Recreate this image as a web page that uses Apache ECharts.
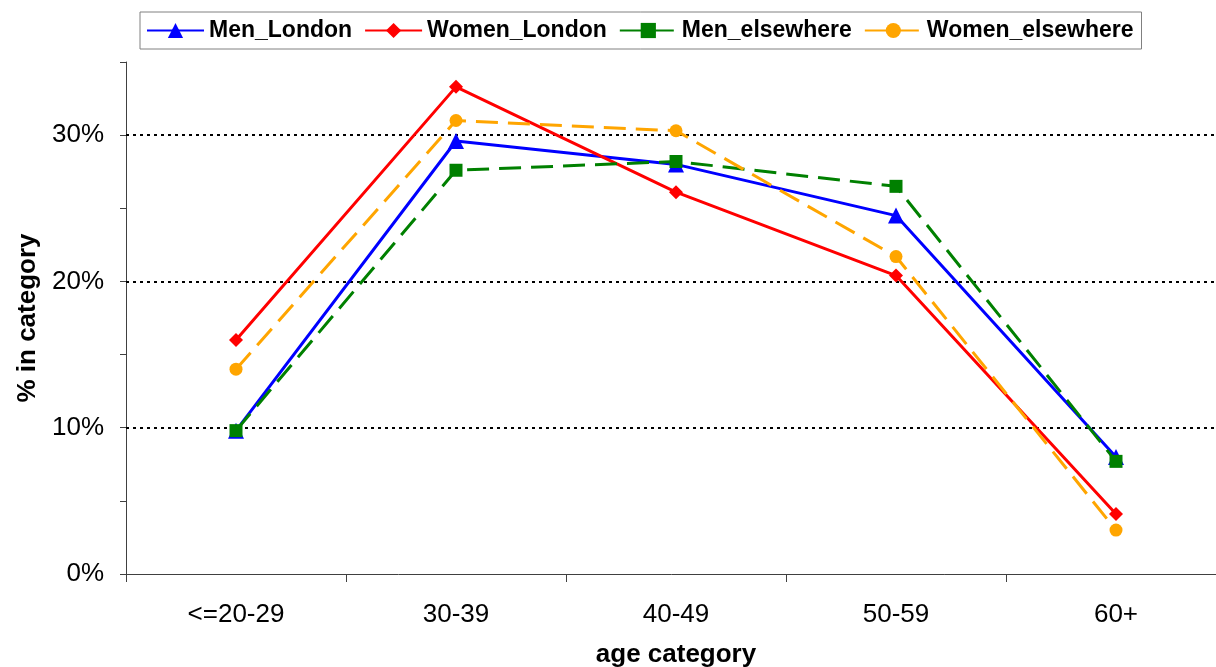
<!DOCTYPE html>
<html>
<head>
<meta charset="utf-8">
<script src="https://cdn.jsdelivr.net/npm/echarts@6/dist/echarts.min.js"></script>
<style>
  html, body { margin: 0; padding: 0; background: #fff; }
  #chart { width: 1216px; height: 667px; }
</style>
</head>
<body>
<div id="chart"></div>
<script>
const categories = ['<=20-29', '30-39', '40-49', '50-59', '60+'];
const menLondon = [9.8, 29.6, 28.0, 24.5, 8.0];
const womenLondon = [16.0, 33.3, 26.1, 20.4, 4.1];
const menElsewhere = [9.8, 27.6, 28.2, 26.5, 7.7];
const womenElsewhere = [14.0, 31.0, 30.3, 21.7, 3.0];
const gridValues = [10, 20, 30];

const FONT = 'Liberation Sans, Arial, sans-serif';

const chart = echarts.init(document.getElementById('chart'));

const option = {
  animation: false,
  backgroundColor: '#fff',
  textStyle: { fontFamily: FONT },
  legend: {
    data: ['Men_London', 'Women_London', 'Men_elsewhere', 'Women_elsewhere'],
    left: 140,
    top: 12,
    padding: [7, 8, 7, 6],
    borderColor: '#808080',
    borderWidth: 1,
    itemWidth: 57,
    itemHeight: 19,
    itemGap: 12,
    textStyle: { fontFamily: FONT, fontSize: 23, fontWeight: 'bold', color: '#000' }
  },
  grid: { left: 126, top: 62, width: 1100, height: 512, outerBoundsMode: 'none', containLabel: false },
  xAxis: {
    type: 'category',
    data: categories,
    boundaryGap: true,
    name: 'age category',
    nameLocation: 'middle',
    nameGap: 68,
    nameTextStyle: { fontFamily: FONT, fontSize: 26, fontWeight: 'bold', color: '#000' },
    axisLine: { lineStyle: { color: '#404040', width: 1 } },
    axisTick: { show: true, length: 8, lineStyle: { color: '#404040' } },
    axisLabel: { fontFamily: FONT, fontSize: 26, color: '#000', margin: 28 }
  },
  yAxis: {
    type: 'value',
    min: 0,
    max: 35,
    interval: 5,
    name: '% in category',
    nameLocation: 'middle',
    nameGap: 83,
    nameTextStyle: { fontFamily: FONT, fontSize: 26, fontWeight: 'bold', color: '#000' },
    axisLine: { show: true, lineStyle: { color: '#404040', width: 1 } },
    axisTick: { show: true, length: 6, lineStyle: { color: '#404040' } },
    splitLine: { show: false },
    axisLabel: {
      fontFamily: FONT, fontSize: 26, color: '#000', margin: 22,
      formatter: v => (v % 10 === 0 ? v + '%' : '')
    }
  },
  series: [
    {
      type: 'line',
      data: [],
      z: 1,
      silent: true,
      markLine: {
        silent: true,
        symbol: ['none', 'none'],
        label: { show: false },
        lineStyle: { color: '#000', type: [3, 4], width: 2 },
        data: gridValues.map(v => ({ yAxis: v }))
      }
    },
    {
      name: 'Men_London',
      type: 'line',
      data: menLondon,
      z: 5,
      color: '#0000ff',
      symbol: 'triangle',
      symbolSize: 16,
      lineStyle: { width: 3, color: '#0000ff' },
      itemStyle: { color: '#0000ff' }
    },
    {
      name: 'Women_London',
      type: 'line',
      data: womenLondon,
      z: 5,
      color: '#ff0000',
      symbol: 'diamond',
      symbolSize: [14, 14],
      lineStyle: { width: 3, color: '#ff0000' },
      itemStyle: { color: '#ff0000' }
    },
    {
      name: 'Men_elsewhere',
      type: 'line',
      data: menElsewhere,
      z: 5,
      color: '#008000',
      symbol: 'rect',
      symbolSize: 13,
      lineStyle: { width: 3, color: '#008000', type: [22, 10] },
      itemStyle: { color: '#008000' }
    },
    {
      name: 'Women_elsewhere',
      type: 'line',
      data: womenElsewhere,
      z: 5,
      color: '#ffa500',
      symbol: 'circle',
      symbolSize: 13,
      lineStyle: { width: 3, color: '#ffa500', type: [22, 10] },
      itemStyle: { color: '#ffa500' }
    }
  ]
};

chart.setOption(option);
</script>
</body>
</html>
